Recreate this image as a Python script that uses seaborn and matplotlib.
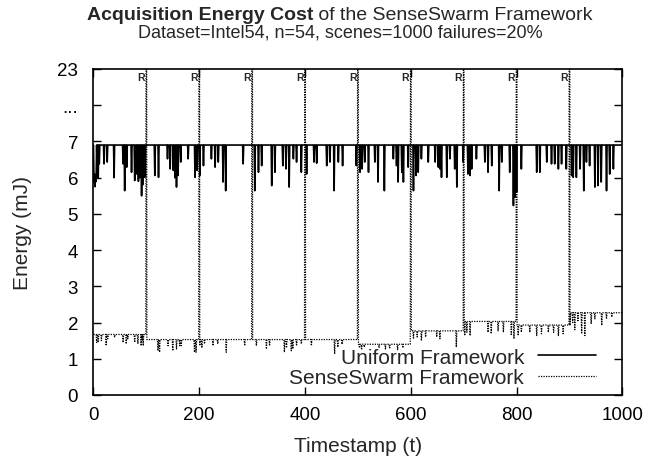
import numpy as np
import pandas as pd
import matplotlib
matplotlib.use("Agg")
import matplotlib.pyplot as plt
import seaborn as sns

# ---------------- data ----------------
timestamps_max = 1000
x_ticks = [0, 200, 400, 600, 800, 1000]
y_tick_pos = [0, 1, 2, 3, 4, 5, 6, 7, 8, 9]
y_tick_labels = ["0", "1", "2", "3", "4", "5", "6", "7", "...", "23"]

# Uniform Framework: flat level with downward dips
uniform_level = 6.9
uniform_dip_t = [1, 2, 3, 4, 5, 7, 9, 11, 20, 26, 39, 56, 59, 63, 72, 78, 82, 85, 88, 91,
                 93, 97, 116, 123, 140, 145, 151, 154, 157, 160, 165, 179, 192, 196, 201,
                 208, 223, 230, 236, 245, 250, 283, 305, 312, 318, 337, 343, 358, 364, 370,
                 378, 384, 393, 403, 417, 422, 441, 447, 455, 463, 471, 497, 504, 508, 513,
                 520, 532, 538, 550, 567, 573, 576, 583, 586, 595, 605, 610, 614, 620, 633,
                 646, 652, 655, 658, 668, 674, 683, 687, 699, 708, 712, 715, 724, 740, 746,
                 753, 767, 772, 787, 794, 797, 800, 809, 838, 844, 857, 866, 872, 879, 885,
                 894, 904, 907, 913, 920, 927, 932, 938, 948, 954, 960, 970, 976, 983]
uniform_dip_v = [5.87, 6.1, 5.75, 6.0, 5.9, 6.2, 6.0, 6.38, 6.38, 6.43, 6.0, 6.38, 5.64, 6.29,
                 6.15, 5.92, 6.1, 5.9, 6.0, 5.5, 5.8, 6.01, 6.06, 6.01, 6.52, 6.24, 6.2, 6.0,
                 5.74, 6.06, 6.43, 6.52, 6.01, 6.2, 6.06, 6.33, 6.52, 6.29, 6.43, 5.88, 5.64,
                 6.38, 5.64, 6.15, 6.33, 5.78, 6.15, 6.33, 6.24, 5.74, 6.52, 6.43, 6.15, 6.1,
                 6.43, 6.4, 6.33, 6.43, 5.64, 6.43, 6.33, 6.33, 6.15, 6.24, 6.43, 6.15, 6.43,
                 5.88, 5.64, 6.52, 6.33, 5.88, 6.15, 5.88, 6.29, 5.64, 6.06, 6.15, 6.52, 6.43,
                 6.43, 6.29, 6.24, 6.01, 6.01, 6.52, 6.24, 5.74, 6.43, 6.1, 6.06, 6.24, 6.52,
                 6.43, 6.15, 6.33, 5.64, 6.43, 6.15, 5.23, 5.46, 5.6, 6.24, 6.15, 6.15, 6.43,
                 6.38, 6.38, 6.24, 6.38, 6.24, 6.06, 6.01, 6.01, 6.24, 5.64, 6.43, 6.33, 5.74,
                 5.78, 5.88, 5.64, 6.1, 6.24]

# SenseSwarm Framework: level per 100-step segment, dips, and resets
segment_start = [0, 100, 200, 300, 400, 500, 600, 700, 800, 900]
swarm_level = [1.67, 1.53, 1.53, 1.53, 1.53, 1.40, 1.77, 2.03, 1.93, 2.27]
swarm_dip_t = [6, 9, 15, 24, 27, 40, 56, 62, 65, 78, 84, 90, 92, 94,
               122, 125, 141, 150, 157, 163, 166, 191, 194, 201, 205, 210, 226, 235, 251,
               286, 308, 327, 333, 361, 365, 374, 377, 384, 393, 412, 456, 462, 470,
               503, 507, 512, 540, 552, 560, 575, 585,
               605, 612, 620, 628, 649, 655, 686,
               702, 706, 712, 746, 752, 765, 775, 790, 795,
               803, 809, 825, 838, 847, 860, 870, 879, 888,
               901, 906, 910, 916, 923, 929, 941, 948, 961, 970, 980]
swarm_dip_v = [1.45, 1.45, 1.5, 1.36, 1.55, 1.59, 1.45, 1.41, 1.55, 1.45, 1.41, 1.36, 1.5, 1.36,
               1.22, 1.18, 1.36, 1.22, 1.27, 1.36, 1.36, 1.18, 1.18, 1.36, 1.3, 1.41, 1.36, 1.41, 1.18,
               1.36, 1.36, 1.27, 1.36, 1.18, 1.3, 1.22, 1.27, 1.36, 1.41, 1.36, 1.13, 1.32, 1.4,
               1.3, 1.25, 1.32, 1.3, 1.27, 1.3, 1.25, 1.3,
               1.55, 1.6, 1.5, 1.6, 1.6, 1.55, 1.32,
               1.64, 1.73, 1.64, 1.73, 1.69, 1.76, 1.73, 1.64, 1.55,
               1.64, 1.73, 1.73, 1.64, 1.69, 1.73, 1.73, 1.64, 1.69,
               1.92, 2.0, 1.8, 2.05, 1.69, 1.64, 1.96, 2.1, 1.92, 2.1, 2.15]
reset_t = [100, 200, 300, 400, 500, 600, 700, 800, 900]
reset_value = 23.0

# ---------------- assemble series ----------------
t = np.arange(0, timestamps_max + 1)
uniform = np.full(t.shape, uniform_level)
uniform[np.array(uniform_dip_t)] = uniform_dip_v

seg_idx = np.clip(np.searchsorted(segment_start, t, side="right") - 1, 0, len(swarm_level) - 1)
swarm = np.array(swarm_level)[seg_idx]
swarm[np.array(swarm_dip_t)] = swarm_dip_v
swarm[np.array(reset_t)] = reset_value

df = pd.DataFrame({"t": t, "Uniform Framework": uniform, "SenseSwarm Framework": swarm})

# ---------------- figure ----------------
sns.set_style("ticks")
plt.rcParams["font.family"] = ["Liberation Sans", "DejaVu Sans"]

fig = plt.figure(figsize=(6.49, 4.64), dpi=100)
ax = fig.add_axes([0.144, 0.1466, 0.815, 0.7026])

sns.lineplot(data=df, x="t", y="Uniform Framework", ax=ax, color="black",
             linewidth=1.2, label="Uniform Framework", estimator=None)
sns.lineplot(data=df, x="t", y="SenseSwarm Framework", ax=ax, color="black",
             linewidth=0.9, label="SenseSwarm Framework", estimator=None)
ax.lines[1].set_linestyle((0, (1, 1)))

ax.set_xlim(0, timestamps_max)
ax.set_ylim(0, 9)
ax.set_xticks(x_ticks)
ax.set_yticks(y_tick_pos)
ax.set_yticklabels(y_tick_labels)
ax.tick_params(direction="in", length=6, width=1.0, top=True, right=True,
               labelsize=13.5, colors="black")
ax.tick_params(axis="x", pad=8)
ax.tick_params(axis="y", pad=11)
for s in ax.spines.values():
    s.set_linewidth(1.2)
    s.set_color("black")

ax.set_xlabel("Timestamp (t)", fontsize=15, labelpad=9)
ax.set_ylabel("Energy (mJ)", fontsize=15, labelpad=18)

for rt in reset_t:
    ax.text(rt - 3, 8.78, "R", fontsize=7.5, fontweight="bold", ha="right", va="center")

leg = ax.legend(loc="lower right", bbox_to_anchor=(0.95, 0.025), frameon=False,
                markerfirst=False, fontsize=15, handlelength=2.8, handletextpad=0.65,
                labelspacing=0.05, borderpad=0, borderaxespad=0)
leg.get_lines()[1].set_linestyle((0, (1, 1)))

# title: bold part + normal part on first line
fig.canvas.draw()
r = fig.canvas.get_renderer()
t1 = fig.text(0, 0, "Acquisition Energy Cost", fontsize=14, fontweight="bold")
t2 = fig.text(0, 0, " of the SenseSwarm Framework", fontsize=14)
w1 = t1.get_window_extent(r).width
w2 = t2.get_window_extent(r).width
cx = 340
W = fig.bbox.width
H = fig.bbox.height
x0 = cx - (w1 + w2) / 2
t1.set_position((x0 / W, 1 - 16 / H)); t1.set_va("center")
t2.set_position(((x0 + w1) / W, 1 - 16 / H)); t2.set_va("center")
fig.text(cx / W, 1 - 33 / H, "Dataset=Intel54, n=54, scenes=1000 failures=20%",
         fontsize=13, ha="center", va="center")

fig.savefig("out.png", dpi=100)
